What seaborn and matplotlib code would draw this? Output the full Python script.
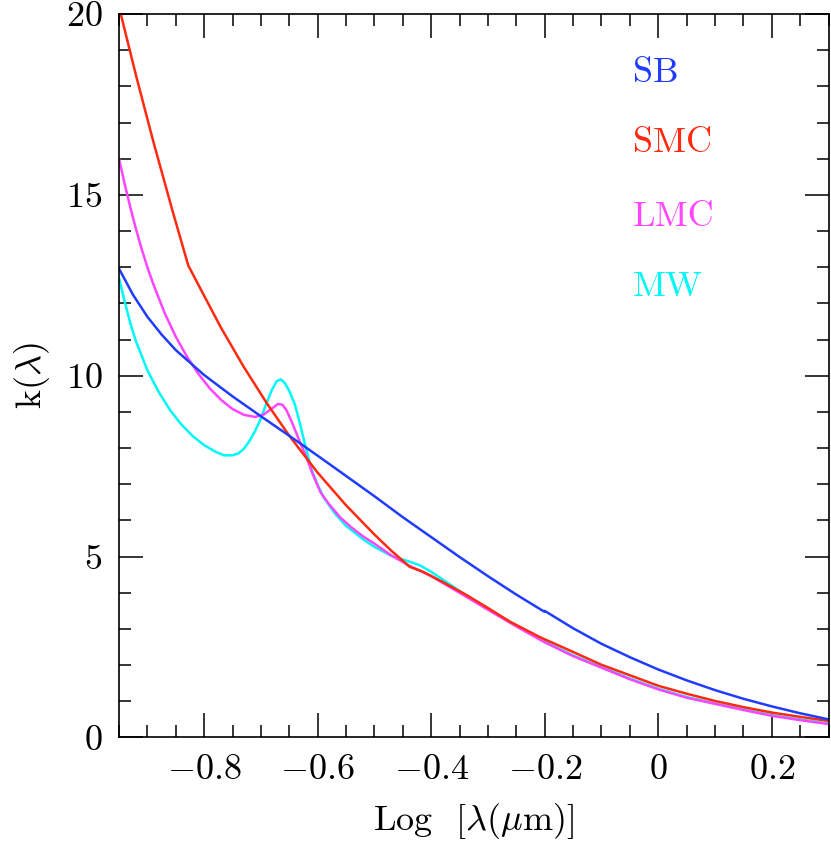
import pandas as pd
import seaborn as sns
import matplotlib.pyplot as plt
from matplotlib.ticker import MultipleLocator

# log10 of wavelength (micron) and k(lambda)
sb_logl = [-0.95, -0.925, -0.9, -0.875, -0.85, -0.8, -0.75, -0.7, -0.65, -0.6, -0.55, -0.5,
           -0.45, -0.4, -0.35, -0.3, -0.25, -0.201, -0.2, -0.15, -0.1, -0.05, 0.0, 0.05, 0.1,
           0.15, 0.2, 0.25, 0.3]
sb_k = [12.96, 12.23, 11.63, 11.14, 10.71, 10.02, 9.43, 8.88, 8.34, 7.79, 7.23, 6.67,
        6.09, 5.54, 4.99, 4.46, 3.95, 3.48, 3.50, 3.02, 2.59, 2.22, 1.88, 1.58, 1.31,
        1.07, 0.86, 0.67, 0.50]

smc_logl = [-0.95, -0.92, -0.89, -0.855, -0.828, -0.8, -0.77, -0.73, -0.69, -0.65, -0.6,
            -0.55, -0.5, -0.47, -0.438, -0.414, -0.38, -0.338, -0.3, -0.261, -0.208, -0.155,
            -0.1, -0.05, 0.0, 0.05, 0.1, 0.15, 0.2, 0.25, 0.3]
smc_k = [20.2, 18.3, 16.5, 14.52, 13.05, 12.21, 11.32, 10.24, 9.25, 8.34, 7.32,
         6.42, 5.61, 5.16, 4.72, 4.58, 4.30, 3.94, 3.58, 3.20, 2.77, 2.40,
         2.01, 1.72, 1.43, 1.21, 1.01, 0.84, 0.69, 0.57, 0.46]

lmc_logl = [-0.95, -0.94, -0.93, -0.92, -0.91, -0.9, -0.89, -0.87, -0.85, -0.83, -0.81,
            -0.79, -0.77, -0.75, -0.73, -0.71, -0.695, -0.68, -0.67, -0.662, -0.655, -0.645,
            -0.632, -0.62, -0.608, -0.595, -0.58, -0.56, -0.54, -0.52, -0.5, -0.47, -0.44,
            -0.4, -0.35, -0.3, -0.25, -0.2, -0.15, -0.1, -0.05, 0.0, 0.05, 0.1, 0.15, 0.2,
            0.25, 0.3]
lmc_k = [16.0, 15.3, 14.65, 14.05, 13.5, 13.0, 12.55, 11.75, 11.08, 10.52, 10.05,
         9.65, 9.33, 9.08, 8.92, 8.86, 8.93, 9.1, 9.22, 9.2, 9.05, 8.7,
         8.2, 7.75, 7.25, 6.78, 6.45, 6.08, 5.80, 5.56, 5.36, 5.03, 4.76,
         4.46, 4.0, 3.53, 3.07, 2.63, 2.25, 1.93, 1.61, 1.33, 1.10, 0.93, 0.76, 0.60,
         0.48, 0.37]

mw_logl = [-0.95, -0.94, -0.93, -0.92, -0.9, -0.88, -0.86, -0.84, -0.82, -0.8, -0.78,
           -0.765, -0.75, -0.74, -0.73, -0.72, -0.71, -0.7, -0.69, -0.68, -0.672, -0.665,
           -0.658, -0.65, -0.64, -0.63, -0.62, -0.61, -0.6, -0.59, -0.57, -0.55, -0.52,
           -0.5, -0.47, -0.44, -0.42, -0.4, -0.38, -0.35, -0.3, -0.25, -0.2, -0.15, -0.1,
           -0.05, 0.0, 0.05, 0.1, 0.15, 0.2, 0.25, 0.3]
mw_k = [12.7, 12.05, 11.45, 10.95, 10.15, 9.55, 9.05, 8.65, 8.33, 8.08, 7.90,
        7.80, 7.80, 7.85, 7.98, 8.2, 8.48, 8.82, 9.25, 9.63, 9.85, 9.9,
        9.8, 9.58, 9.2, 8.6, 7.95, 7.38, 6.98, 6.65, 6.2, 5.85, 5.48,
        5.27, 5.02, 4.87, 4.76, 4.58, 4.37, 4.05, 3.55, 3.09, 2.65, 2.27, 1.95,
        1.63, 1.35, 1.12, 0.94, 0.78, 0.62, 0.50, 0.39]

curve_order = ['MW', 'LMC', 'SMC', 'SB']
colors = {'SB': '#1f3cff', 'SMC': '#ff2a10', 'LMC': '#ff45ff', 'MW': '#00f8f8'}
label_order = ['SB', 'SMC', 'LMC', 'MW']

x_major = [-0.8, -0.6, -0.4, -0.2, 0.0, 0.2]
x_labels = ['$-0.8$', '$-0.6$', '$-0.4$', '$-0.2$', '$0$', '$0.2$']
y_major = [0, 5, 10, 15, 20]
y_labels = ['$0$', '$5$', '$10$', '$15$', '$20$']

frames = []
for name, xs, ks in [('MW', mw_logl, mw_k), ('LMC', lmc_logl, lmc_k),
                     ('SMC', smc_logl, smc_k), ('SB', sb_logl, sb_k)]:
    frames.append(pd.DataFrame({'logl': xs, 'k': ks, 'curve': name}))
df = pd.concat(frames, ignore_index=True)

sns.set_theme(style='ticks')
plt.rcParams.update({
    'font.family': 'cmr10',
    'mathtext.fontset': 'cm',
    'axes.unicode_minus': False,
    'axes.edgecolor': 'black',
    'axes.linewidth': 1.2,
    'text.color': 'black',
    'axes.labelcolor': 'black',
    'xtick.color': 'black',
    'ytick.color': 'black',
})

fig = plt.figure(figsize=(8.31, 8.44), dpi=100)
ax = fig.add_axes([0.1432, 0.1262, 0.8538, 0.8572])

sns.lineplot(data=df, x='logl', y='k', hue='curve', hue_order=curve_order,
             palette=colors, sort=False, estimator=None, legend=False,
             linewidth=1.8, ax=ax)

ax.set_xlim(-0.95, 0.3)
ax.set_ylim(0, 20)
ax.set_xticks(x_major)
ax.set_xticklabels(x_labels)
ax.set_yticks(y_major)
ax.set_yticklabels(y_labels)
ax.xaxis.set_minor_locator(MultipleLocator(0.05))
ax.yaxis.set_minor_locator(MultipleLocator(1))

ax.tick_params(which='both', direction='in', top=True, right=True, width=1.1)
ax.tick_params(which='major', length=17, labelsize=26, pad=12)
ax.tick_params(which='minor', length=8.5)

ax.set_xlabel(r'Log  $[\lambda(\mu{\rm m})]$', fontsize=26, labelpad=11)
ax.set_ylabel(r'k$(\lambda)$', fontsize=26, labelpad=10)

# coloured labels in the upper right
label_y = [0.9185, 0.8217, 0.7194, 0.6227]
for name, yy in zip(label_order, label_y):
    ax.text(0.7245, yy, name, color=colors[name], fontsize=26,
            va='center', ha='left', transform=ax.transAxes)

fig.savefig('out.png', dpi=100)
